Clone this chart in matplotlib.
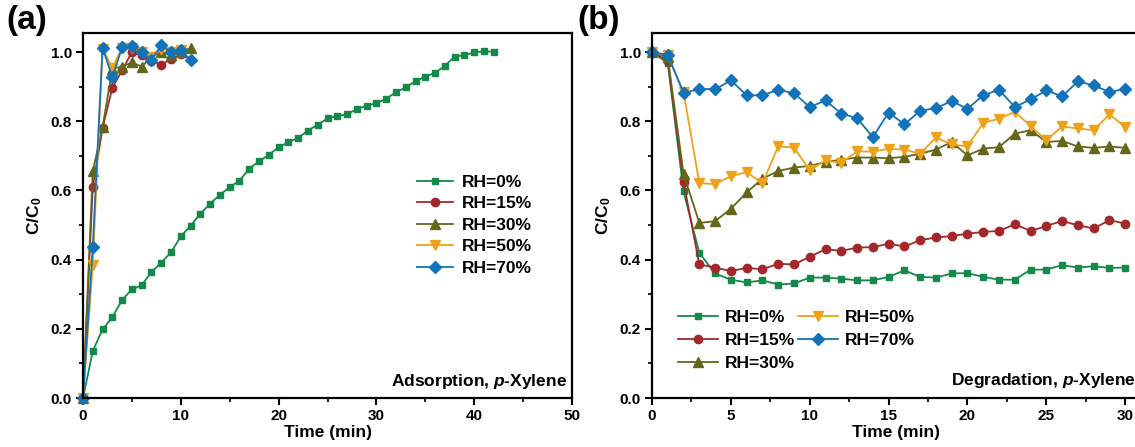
import matplotlib
matplotlib.use("Agg")
import matplotlib.pyplot as plt
from matplotlib.ticker import MultipleLocator

plt.rcParams['font.family'] = ['Liberation Sans', 'DejaVu Sans']
plt.rcParams['font.weight'] = 'bold'
plt.rcParams['mathtext.fontset'] = 'custom'
plt.rcParams['mathtext.rm'] = 'Liberation Sans:bold'
plt.rcParams['mathtext.it'] = 'Liberation Sans:bold:italic'
plt.rcParams['mathtext.bf'] = 'Liberation Sans:bold'

labels = ["RH=0%", "RH=15%", "RH=30%", "RH=50%", "RH=70%"]
colors = ["#14894a", "#a3282c", "#66661a", "#eea21a", "#1373b9"]
markers = ["s", "o", "^", "v", "D"]
msizes = [5, 6, 6.5, 6.5, 6]

# (a) adsorption
t_ads_0 = list(range(0, 43))
ads_0 = [0, 0.136, 0.198, 0.234, 0.283, 0.314, 0.326, 0.364, 0.391, 0.421, 0.467,
         0.498, 0.532, 0.562, 0.587, 0.61, 0.628, 0.663, 0.684, 0.703, 0.725,
         0.739, 0.752, 0.773, 0.79, 0.808, 0.815, 0.82, 0.835, 0.845, 0.852,
         0.865, 0.884, 0.898, 0.916, 0.929, 0.94, 0.96, 0.987, 0.991, 0.999,
         1.002, 1.001]
t_ads_15 = list(range(0, 11))
ads_15 = [0, 0.61, 0.78, 0.897, 0.947, 1.0, 0.99, 0.975, 0.963, 0.98, 0.993]
t_ads_30 = list(range(0, 12))
ads_30 = [0, 0.655, 0.783, 0.952, 0.958, 0.97, 0.958, 0.985, 1.0, 0.99, 1.0, 1.012]
t_ads_50 = list(range(0, 11))
ads_50 = [0, 0.385, 1.01, 0.955, 1.012, 1.012, 1.0, 0.985, 1.01, 1.0, 1.005]
t_ads_70 = list(range(0, 12))
ads_70 = [0, 0.437, 1.013, 0.927, 1.014, 1.017, 1.0, 0.978, 1.02, 1.0, 1.006, 0.977]

# (b) degradation
t_deg = list(range(0, 31))
deg_0 = [1.0, 0.968, 0.597, 0.419, 0.36, 0.342, 0.334, 0.34, 0.328, 0.331, 0.348,
         0.348, 0.345, 0.34, 0.34, 0.35, 0.369, 0.35, 0.348, 0.36, 0.361,
         0.35, 0.342, 0.342, 0.371, 0.371, 0.384, 0.377, 0.381, 0.376, 0.377]
deg_15 = [1.0, 0.975, 0.624, 0.386, 0.377, 0.367, 0.376, 0.372, 0.388, 0.386, 0.408,
          0.43, 0.425, 0.435, 0.436, 0.446, 0.438, 0.456, 0.464, 0.468, 0.475,
          0.48, 0.483, 0.502, 0.483, 0.497, 0.512, 0.499, 0.49, 0.514, 0.504]
deg_30 = [1.0, 0.985, 0.648, 0.506, 0.511, 0.547, 0.594, 0.634, 0.656, 0.666, 0.671,
          0.682, 0.689, 0.695, 0.695, 0.693, 0.697, 0.706, 0.718, 0.74, 0.701,
          0.721, 0.725, 0.764, 0.774, 0.74, 0.743, 0.727, 0.723, 0.727, 0.723]
deg_50 = [1.0, 0.99, 0.884, 0.621, 0.618, 0.641, 0.653, 0.62, 0.727, 0.724, 0.658,
          0.687, 0.679, 0.713, 0.712, 0.72, 0.718, 0.706, 0.753, 0.733, 0.727,
          0.796, 0.807, 0.827, 0.786, 0.745, 0.785, 0.779, 0.774, 0.82, 0.783]
deg_70 = [1.0, 0.992, 0.881, 0.894, 0.892, 0.918, 0.875, 0.875, 0.891, 0.881, 0.841,
          0.86, 0.822, 0.809, 0.754, 0.825, 0.791, 0.83, 0.838, 0.858, 0.836,
          0.875, 0.891, 0.841, 0.863, 0.889, 0.872, 0.915, 0.904, 0.884, 0.894]

ads_x = [t_ads_0, t_ads_15, t_ads_30, t_ads_50, t_ads_70]
ads_y = [ads_0, ads_15, ads_30, ads_50, ads_70]
deg_y = [deg_0, deg_15, deg_30, deg_50, deg_70]

W, H = 1135, 447
fig = plt.figure(figsize=(W / 100, H / 100), dpi=100)
ax1 = fig.add_axes([83 / W, 49 / H, 489 / W, 365 / H])
ax2 = fig.add_axes([652 / W, 49 / H, 489 / W, 365 / H])


def style(ax, xmax, xmaj, xmin):
    ax.set_ylim(0, 1.055)
    ax.set_xlim(0, xmax)
    ax.xaxis.set_major_locator(MultipleLocator(xmaj))
    ax.xaxis.set_minor_locator(MultipleLocator(xmin))
    ax.yaxis.set_major_locator(MultipleLocator(0.2))
    ax.yaxis.set_minor_locator(MultipleLocator(0.1))
    ax.yaxis.set_major_formatter(plt.FormatStrFormatter('%.1f'))
    ax.tick_params(which='major', direction='out', length=5, width=1.5,
                   labelsize=11, pad=3)
    ax.tick_params(which='minor', direction='out', length=3, width=1.2)
    for s in ax.spines.values():
        s.set_linewidth(1.6)
    ax.set_xlabel("Time (min)", fontsize=12.5, fontweight='bold', labelpad=1)
    ax.set_ylabel("C/C$_\\mathrm{0}$", fontsize=12.5, fontweight='bold', labelpad=5)


for i in range(5):
    ax1.plot(ads_x[i], ads_y[i], color=colors[i], marker=markers[i],
             markersize=msizes[i], linewidth=1.3, label=labels[i], clip_on=False)
    ax2.plot(t_deg, deg_y[i], color=colors[i], marker=markers[i],
             markersize=msizes[i], linewidth=1.3, label=labels[i], clip_on=False)

style(ax1, 50, 10, 5)
style(ax2, 31, 5, 2.5)
ax2.set_xticks(range(0, 31, 5))

ax1.legend(loc='upper left', bbox_to_anchor=(0.665, 0.635), frameon=False,
           fontsize=12.5, handlelength=2.1, handletextpad=0.5, labelspacing=0.36,
           borderpad=0)
ax2.legend(loc='upper left', bbox_to_anchor=(0.035, 0.265), frameon=False, ncol=2,
           fontsize=12.5, handlelength=2.3, handletextpad=0.4, labelspacing=0.45,
           columnspacing=0.2, borderpad=0)

ax1.text(0.99, 0.045, "Adsorption, $\\mathit{p}$-Xylene", transform=ax1.transAxes,
         ha='right', va='center', fontsize=12.5, fontweight='bold')
fig.text(1136 / W, 1 - 380 / H, "Degradation, $\\mathit{p}$-Xylene",
         ha='right', va='center', fontsize=12.5, fontweight='bold')

fig.text(6 / W, 1 - 21 / H, "(a)", ha='left', va='center', fontsize=24, fontweight='bold')
fig.text(577 / W, 1 - 21 / H, "(b)", ha='left', va='center', fontsize=24, fontweight='bold')

fig.savefig("out.png", dpi=100, facecolor='white')
